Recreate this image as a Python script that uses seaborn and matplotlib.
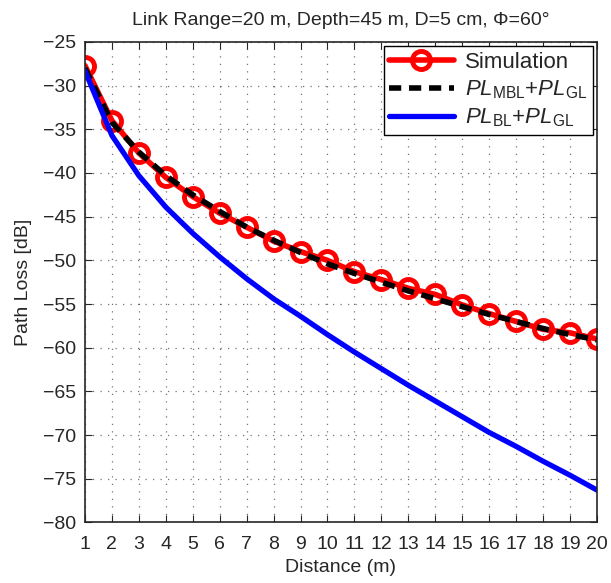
import numpy as np
import matplotlib
matplotlib.use('Agg')
import matplotlib.pyplot as plt
import pandas as pd
import seaborn as sns

# data
distance = list(range(1, 21))
simulation = [-27.7, -34.0, -37.7, -40.5, -42.7, -44.6, -46.2, -47.8, -49.0, -50.0,
              -51.3, -52.2, -53.2, -53.9, -55.1, -56.1, -57.0, -57.9, -58.3, -59.0]
pl_mbl_gl = [-28.0, -34.2, -37.6, -40.3, -42.5, -44.4, -46.2, -47.7, -49.1, -50.4,
             -51.5, -52.5, -53.5, -54.4, -55.3, -56.2, -57.0, -57.8, -58.5, -59.1]
pl_bl_gl = [-28.3, -35.7, -40.3, -43.9, -46.9, -49.6, -52.1, -54.4, -56.4, -58.5,
            -60.5, -62.4, -64.3, -66.1, -67.9, -69.7, -71.3, -73.0, -74.6, -76.3]

labels = ['Simulation', r'$PL_{\rm MBL}$+$PL_{\rm GL}$', r'$PL_{\rm BL}$+$PL_{\rm GL}$']

df = pd.DataFrame({
    'Distance': distance * 3,
    'PathLoss': simulation + pl_mbl_gl + pl_bl_gl,
    'Series': [labels[0]] * 20 + [labels[1]] * 20 + [labels[2]] * 20,
})

sns.set_style('ticks')
plt.rcParams['font.family'] = ['Liberation Sans', 'DejaVu Sans']
plt.rcParams['mathtext.fontset'] = 'custom'
plt.rcParams['mathtext.rm'] = 'Liberation Sans'
plt.rcParams['mathtext.it'] = 'Liberation Sans:italic'

fig = plt.figure(figsize=(6.11, 5.83), dpi=100)
ax = fig.add_axes([0.139, 0.104, 0.838, 0.824])

sns.lineplot(data=df[df['Series'] == labels[0]], x='Distance', y='PathLoss', ax=ax,
             color='red', lw=4, marker='o', markersize=13, markerfacecolor='none',
             markeredgecolor='red', markeredgewidth=3.5, label=labels[0])
sns.lineplot(data=df[df['Series'] == labels[1]], x='Distance', y='PathLoss', ax=ax,
             color='black', lw=4, linestyle=(0, (2.2, 1.4)), label=labels[1])
sns.lineplot(data=df[df['Series'] == labels[2]], x='Distance', y='PathLoss', ax=ax,
             color='blue', lw=3.8, label=labels[2])

ax.set_xlim(1, 20)
ax.set_ylim(-80, -25)
ax.set_xticks(range(1, 21))
ax.set_yticks(range(-80, -24, 5))
ax.grid(True, linestyle=(0, (1, 5)), color='black', lw=0.9, alpha=0.55)
ax.tick_params(axis='both', direction='in', top=True, right=True, labelsize=14, length=5)
ax.tick_params(axis='x', pad=10)
ax.tick_params(axis='y', pad=6)
for s in ax.spines.values():
    s.set_linewidth(1.2)

ax.set_xlabel('Distance (m)', fontsize=14, labelpad=4)
ax.set_ylabel('Path Loss [dB]', fontsize=14, labelpad=8)
ax.set_title('Link Range=20 m, Depth=45 m, D=5 cm, \u03a6=60\u00b0', fontsize=14, pad=12)

leg = ax.legend(loc='upper right', fontsize=16, frameon=True, fancybox=False,
                edgecolor='black', handlelength=2.9, borderaxespad=0.2,
                labelspacing=0.25, borderpad=0.25, handletextpad=0.5)
leg.get_frame().set_linewidth(1.0)
leg.get_frame().set_alpha(1)

fig.savefig('out.png', dpi=100)
